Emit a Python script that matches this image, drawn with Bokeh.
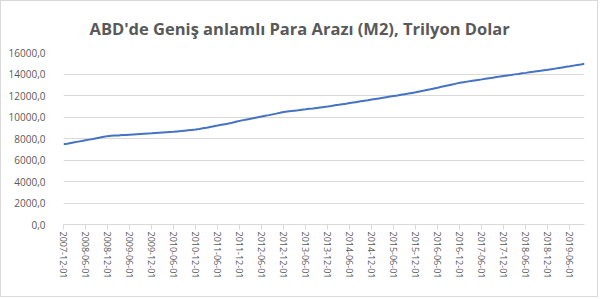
import numpy as np
from bokeh.plotting import figure
from bokeh.models import Range1d, FixedTicker, ColumnDataSource
from bokeh.embed import file_html
from bokeh.resources import INLINE

title_text = "ABD'de Geniş anlamlı Para Arazı (M2), Trilyon Dolar"

# Monthly M2, 2007-12 .. 2019-10
m2 = [
    7460,
    7520, 7585, 7650, 7710, 7770, 7835, 7895, 7955, 8025, 8090, 8155, 8220,
    8245, 8270, 8290, 8315, 8335, 8360, 8380, 8400, 8420, 8440, 8460, 8480,
    8505, 8530, 8555, 8580, 8605, 8630, 8660, 8690, 8725, 8760, 8795, 8830,
    8885, 8945, 9005, 9070, 9135, 9200, 9270, 9335, 9400, 9470, 9555, 9640,
    9710, 9775, 9840, 9910, 9980, 10045, 10110, 10175, 10245, 10315, 10390, 10470,
    10510, 10550, 10590, 10630, 10675, 10715, 10760, 10800, 10845, 10890, 10935, 10980,
    11030, 11085, 11135, 11190, 11240, 11295, 11350, 11405, 11460, 11515, 11565, 11620,
    11675, 11730, 11785, 11845, 11900, 11955, 12010, 12070, 12125, 12180, 12240, 12300,
    12370, 12440, 12515, 12585, 12660, 12730, 12805, 12880, 12955, 13030, 13105, 13180,
    13235, 13290, 13340, 13395, 13450, 13500, 13555, 13610, 13660, 13715, 13765, 13820,
    13870, 13915, 13965, 14010, 14060, 14105, 14155, 14200, 14250, 14295, 14345, 14390,
    14445, 14500, 14555, 14610, 14665, 14720, 14780, 14835, 14890, 14950,
]

x_labels = [
    "2007-12-01", "2008-06-01", "2008-12-01", "2009-06-01", "2009-12-01",
    "2010-06-01", "2010-12-01", "2011-06-01", "2011-12-01", "2012-06-01",
    "2012-12-01", "2013-06-01", "2013-12-01", "2014-06-01", "2014-12-01",
    "2015-06-01", "2015-12-01", "2016-06-01", "2016-12-01", "2017-06-01",
    "2017-12-01", "2018-06-01", "2018-12-01", "2019-06-01",
]
y_ticks = [0, 2000, 4000, 6000, 8000, 10000, 12000, 14000, 16000]
y_labels = ["0,0", "2000,0", "4000,0", "6000,0", "8000,0",
            "10000,0", "12000,0", "14000,0", "16000,0"]

x = list(range(len(m2)))
x_ticks = [i * 6 for i in range(len(x_labels))]

src = ColumnDataSource(dict(x=x, y=m2))

GRAY = "#595959"
GRID = "#D9D9D9"

p = figure(width=598, height=297, output_backend="svg", toolbar_location=None,
           x_range=Range1d(0, len(m2) - 1), y_range=Range1d(0, 16000),
           min_border_left=62, min_border_right=15, min_border_top=51,
           min_border_bottom=74)
p.styles = {"border": "1px solid #D9D9D9"}

p.title.text = title_text
p.title.align = "left"
p.title.offset = 26
p.title.vertical_align = "top"
p.title.standoff = 22
p.title.text_font = "Open Sans"
p.title.text_font_size = "16.5px"
p.title.text_font_style = "bold"
p.title.text_color = GRAY

p.line("x", "y", source=src, line_color="#4472C4", line_width=2)

p.outline_line_color = None
p.xgrid.grid_line_color = None
p.ygrid.grid_line_color = GRID
p.ygrid.grid_line_width = 1

p.yaxis.ticker = FixedTicker(ticks=y_ticks)
p.yaxis.major_label_overrides = dict(zip(y_ticks, y_labels))
p.yaxis.axis_line_color = None
p.yaxis.major_tick_line_color = None
p.yaxis.minor_tick_line_color = None
p.yaxis.major_label_text_font = "Open Sans"
p.yaxis.major_label_text_font_size = "10px"
p.yaxis.major_label_text_color = GRAY
p.yaxis.major_label_standoff = 12

p.xaxis.ticker = FixedTicker(ticks=x_ticks)
p.xaxis.major_label_overrides = dict(zip(x_ticks, x_labels))
p.xaxis.major_label_orientation = "vertical"
p.xaxis.axis_line_color = GRID
p.xaxis.major_tick_line_color = GRID
p.xaxis.major_tick_in = 0
p.xaxis.major_tick_out = 5
p.xaxis.minor_tick_line_color = None
p.xaxis.major_label_text_font = "Open Sans"
p.xaxis.major_label_text_font_size = "9px"
p.xaxis.major_label_text_color = GRAY
p.xaxis.major_label_standoff = 2

p.border_fill_color = "white"
p.background_fill_color = "white"

open("out.html", "w").write(file_html(p, INLINE))
